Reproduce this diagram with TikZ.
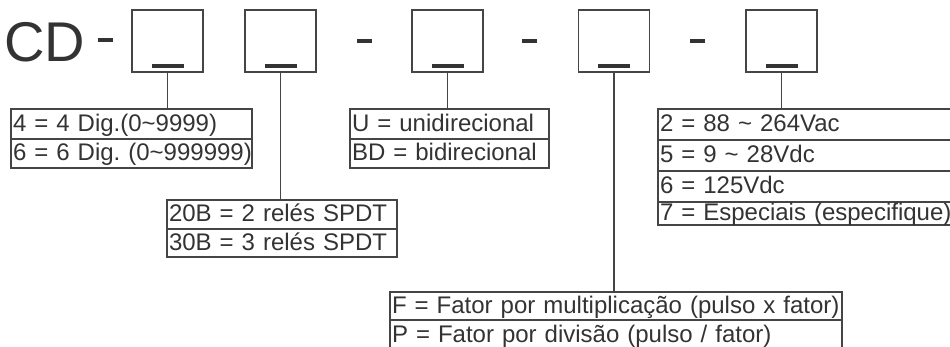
\documentclass[tikz,border=0pt]{standalone}
\usepackage{fontspec}
\setmainfont{Liberation Sans}
\usetikzlibrary{positioning}
\definecolor{linec}{HTML}{454545}
\definecolor{inkc}{HTML}{333333}
\tikzset{
  slot/.style={draw=linec, line width=1.7pt, minimum width=71pt, minimum height=62pt, inner sep=0pt,
    path picture={\fill[inkc] ([shift={(-16pt,4pt)}]path picture bounding box.south) rectangle ([shift={(16pt,8pt)}]path picture bounding box.south);}},
  dashbar/.style={fill=inkc, minimum width=15pt, minimum height=4pt, inner sep=0pt},
  row/.style={draw=linec, line width=1.7pt, text=inkc, font=\fontsize{24}{28}\selectfont\frenchspacing, anchor=north west,
    inner xsep=2pt, inner ysep=0pt, outer sep=0pt, minimum height=30pt, text height=18pt, text depth=3pt,
    text width=#1, align=left, execute at begin node={\hbox\bgroup}, execute at end node={\egroup}},
  link/.style={draw=linec, line width=1.7pt}
}
\begin{document}
\begin{tikzpicture}[x=1pt,y=-1pt]
\useasboundingbox (0,0) rectangle (950,347);
\clip (0,0) rectangle (950,347);
\node[anchor=base west, inner sep=0pt, text=inkc, font=\fontsize{56}{60}\selectfont] (cd) at (4,62) {CD};
\node[dashbar] (d1) at (105,40) {};
\node[slot] (s1) at (167.5,41) {};
\node[slot] (s2) at (280.5,41) {};
\node[dashbar] (d2) at (364.5,41) {};
\node[slot] (s3) at (447.5,41) {};
\node[dashbar] (d3) at (529,41) {};
\node[slot] (s4) at (614,41) {};
\node[dashbar] (d4) at (697.5,41) {};
\node[slot] (s5) at (781.5,41) {};

\node[row=237pt] (t1a) at (11,109) {4 = 4 Dig.(0\textasciitilde9999)};
\node[row=237pt, minimum height=29pt, below=0pt of t1a] (t1b) {6 = 6 Dig. (0\textasciitilde999999)};

\node[row=195pt] (t2a) at (350,109) {U = unidirecional};
\node[row=195pt, minimum height=29pt, below=0pt of t2a] (t2b) {BD = bidirecional};

\node[row=226pt, minimum height=29pt] (t3a) at (167,200) {20B = 2 relés SPDT};
\node[row=226pt, minimum height=28pt, below=0pt of t3a] (t3b) {30B = 3 relés SPDT};

\node[row=296pt, minimum height=31pt] (t4a) at (658,109) {2 = 88 \textasciitilde{} 264Vac};
\node[row=296pt, minimum height=31pt, below=0pt of t4a] (t4b) {5 = 9 \textasciitilde{} 28Vdc};
\node[row=296pt, minimum height=31pt, below=0pt of t4b] (t4c) {6 = 125Vdc};
\node[row=296pt, minimum height=23pt, below=0pt of t4c] (t4d) {7 = Especiais (especifique)};

\node[row=448pt, minimum height=28pt] (t5a) at (390,292) {F = Fator por multiplicação (pulso x fator)};
\node[row=448pt, below=0pt of t5a] (t5b) {P = Fator por divisão (pulso / fator)};

\draw[link] (s1.south) -- (s1.south |- t1a.north);
\draw[link] (s2.south) -- (s2.south |- t3a.north);
\draw[link] (s3.south) -- (s3.south |- t2a.north);
\draw[link] (s4.south) -- (s4.south |- t5a.north);
\draw[link] (s5.south) -- (s5.south |- t4a.north);
\end{tikzpicture}
\end{document}
